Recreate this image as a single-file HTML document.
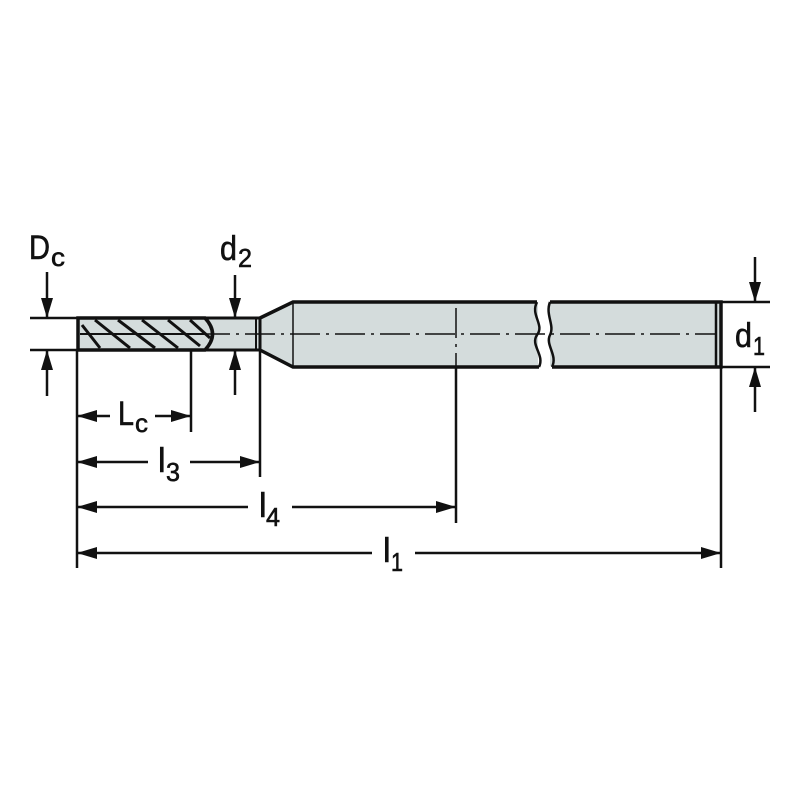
<!DOCTYPE html>
<html><head><meta charset="utf-8"><style>html,body{margin:0;padding:0;background:#fff}svg{display:block}</style></head><body>
<svg width="800" height="800" viewBox="0 0 800 800" xmlns="http://www.w3.org/2000/svg">
<defs>
<marker id="a" viewBox="0 0 20 12" refX="20" refY="6" markerWidth="20" markerHeight="12" markerUnits="userSpaceOnUse" orient="auto-start-reverse"><path d="M0,0L20,6L0,12z" fill="#111"/></marker>
</defs>
<g fill="none" stroke="#111" stroke-width="2.5">
<rect x="293" y="303" width="245" height="63" fill="#d4dcdc" stroke="none"/>
<rect x="550" y="303" width="170" height="63" fill="#d4dcdc" stroke="none"/>
<path d="M260,318 L293,303 L293,366 L260,350z" fill="#d4dcdc" stroke="none"/>
<path d="M260,318 L293,302 L537,302 M550,302 L721,302 L721,367 L552,367 M539,367 L293,367 L260,350" stroke-width="3.5"/>
<path d="M537,302 C530,315 545,325 537,335 C530,345 545,355 539,367" stroke-width="2.5"/>
<path d="M550,302 C545,315 555,325 550,335 C545,345 558,355 552,367" stroke-width="2.5"/>
<line x1="716" y1="303" x2="716" y2="366" stroke-width="2.5"/>
<line x1="293" y1="303" x2="293" y2="366" stroke-width="1.5"/>
<!-- neck -->
<rect x="205" y="318" width="55" height="32" fill="#d4dcdc" stroke-width="3"/>
<line x1="256" y1="318" x2="256" y2="350" stroke-width="2"/>
<!-- cutter -->
<path d="M78,318 L205,318 Q220,334 205,350 L78,350 Z" fill="#d4dcdc" stroke-width="3.5"/>
<g stroke-width="3">
<path d="M82,325 L100,348 M95,320 L130,348 M118,320 L155,348 M142,320 L178,348 M168,320 L200,346 M190,320 L210,338"/>
<path d="M80,334 L205,334" stroke-width="2"/>
</g>
<line x1="200" y1="334" x2="715" y2="334" stroke-width="1.5" stroke-dasharray="30,6,3,6"/>
<g stroke-width="2.5">
<line x1="30" y1="318" x2="78" y2="318"/>
<line x1="30" y1="350" x2="78" y2="350"/>
<line x1="721" y1="302" x2="770" y2="302"/>
<line x1="721" y1="367" x2="770" y2="367"/>
<line x1="77" y1="350" x2="77" y2="568"/>
<line x1="191" y1="350" x2="191" y2="432"/>
<line x1="260" y1="350" x2="260" y2="477"/>
<line x1="456" y1="308" x2="456" y2="366" stroke-dasharray="30,6,3,6" stroke-width="1.5"/>
<line x1="456" y1="366" x2="456" y2="523"/>
<line x1="721" y1="367" x2="721" y2="568"/>
</g>
<g stroke-width="2.5">
<line x1="47" y1="272" x2="47" y2="318" marker-end="url(#a)"/>
<line x1="47" y1="396" x2="47" y2="350" marker-end="url(#a)"/>
<line x1="235" y1="275" x2="235" y2="318" marker-end="url(#a)"/>
<line x1="235" y1="395" x2="235" y2="350" marker-end="url(#a)"/>
<line x1="755" y1="257" x2="755" y2="302" marker-end="url(#a)"/>
<line x1="755" y1="412" x2="755" y2="367" marker-end="url(#a)"/>
<line x1="110" y1="416" x2="77" y2="416" marker-end="url(#a)"/>
<line x1="155" y1="416" x2="191" y2="416" marker-end="url(#a)"/>
<line x1="148" y1="462" x2="77" y2="462" marker-end="url(#a)"/>
<line x1="190" y1="462" x2="260" y2="462" marker-end="url(#a)"/>
<line x1="248" y1="507" x2="77" y2="507" marker-end="url(#a)"/>
<line x1="292" y1="507" x2="456" y2="507" marker-end="url(#a)"/>
<line x1="372" y1="553" x2="77" y2="553" marker-end="url(#a)"/>
<line x1="415" y1="553" x2="721" y2="553" marker-end="url(#a)"/>
</g>
</g>
<g font-family="'Liberation Sans', sans-serif" fill="#111" stroke="#111" stroke-width="0.6">
<text x="29" y="259" font-size="34" textLength="21" lengthAdjust="spacingAndGlyphs">D</text><text x="51" y="266" font-size="26" textLength="14" lengthAdjust="spacingAndGlyphs">c</text>
<text x="220" y="260" font-size="34" textLength="17" lengthAdjust="spacingAndGlyphs">d</text><text x="238" y="267" font-size="26" textLength="14" lengthAdjust="spacingAndGlyphs">2</text>
<text x="735" y="347" font-size="34" textLength="17" lengthAdjust="spacingAndGlyphs">d</text><text x="753" y="355" font-size="26" textLength="12" lengthAdjust="spacingAndGlyphs">1</text>
<text x="118" y="425" font-size="34" textLength="16" lengthAdjust="spacingAndGlyphs">L</text><text x="135" y="432" font-size="26" textLength="13" lengthAdjust="spacingAndGlyphs">c</text>
<text x="158" y="472" font-size="34">l</text><text x="166" y="481" font-size="26" textLength="14" lengthAdjust="spacingAndGlyphs">3</text>
<text x="259" y="517" font-size="34">l</text><text x="266" y="526" font-size="26" textLength="14" lengthAdjust="spacingAndGlyphs">4</text>
<text x="383" y="562" font-size="34">l</text><text x="391" y="571" font-size="26" textLength="12" lengthAdjust="spacingAndGlyphs">1</text>
</g>
</svg>
</body></html>
